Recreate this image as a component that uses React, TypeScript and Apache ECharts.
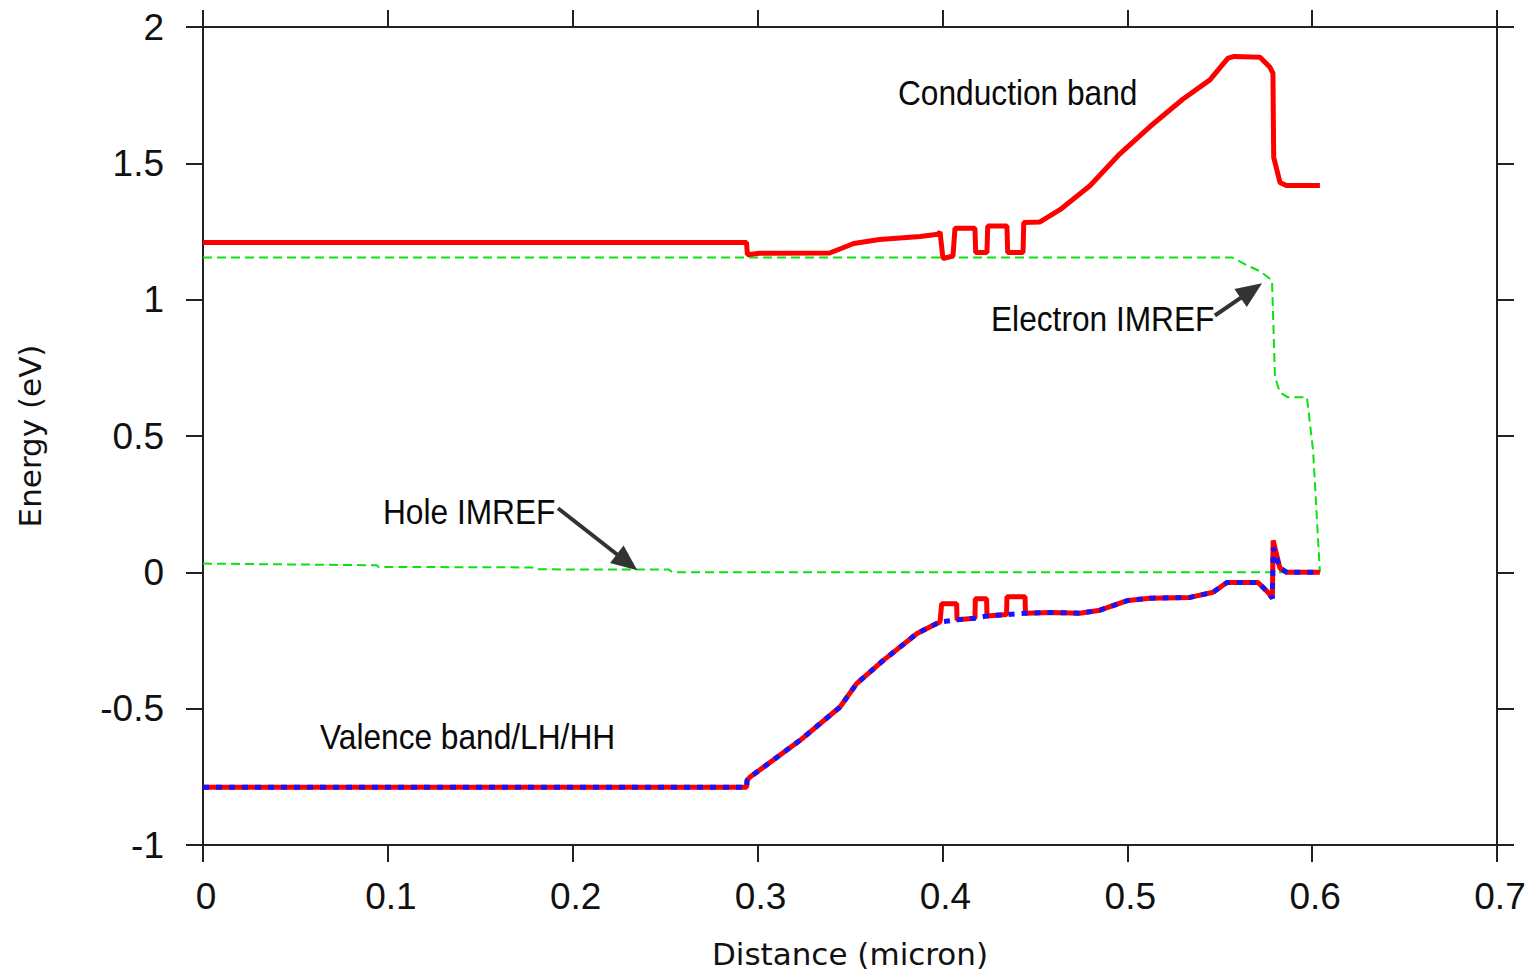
import React, { useEffect, useRef } from "react";
import * as echarts from "echarts";

// Distance axis (micron) and energy axis (eV)
const X_MIN = 0;
const X_MAX = 0.7;
const X_STEP = 0.1;
const Y_MIN = -1;
const Y_MAX = 2;
const Y_STEP = 0.5;

// Conduction band edge [distance, energy]
const conductionBand: [number, number][] = [
  [0, 1.21], [0.294, 1.21], [0.2945, 1.165], [0.301, 1.17], [0.339, 1.171],
  [0.352, 1.206], [0.366, 1.221], [0.388, 1.232], [0.3975, 1.24], [0.3987, 1.248],
  [0.4003, 1.151], [0.4057, 1.16], [0.4068, 1.262], [0.4176, 1.262], [0.418, 1.173],
  [0.4241, 1.173], [0.4245, 1.27], [0.4349, 1.27], [0.4353, 1.173], [0.4436, 1.173],
  [0.444, 1.283], [0.4528, 1.285], [0.4636, 1.33], [0.4798, 1.418], [0.496, 1.535],
  [0.5123, 1.635], [0.53, 1.735], [0.5447, 1.806], [0.5512, 1.859], [0.5545, 1.886],
  [0.558, 1.892], [0.5718, 1.889], [0.5772, 1.852], [0.5788, 1.83], [0.5792, 1.522],
  [0.5826, 1.43], [0.586, 1.419], [0.6042, 1.419],
];

// Electron quasi-Fermi level
const electronImref: [number, number][] = [
  [0, 1.155], [0.5566, 1.155], [0.5648, 1.126], [0.5718, 1.104], [0.5783, 1.071],
  [0.5799, 0.715], [0.5826, 0.66], [0.5869, 0.642], [0.5972, 0.642], [0.6005, 0.447],
  [0.6042, 0],
];

// Hole quasi-Fermi level
const holeImref: [number, number][] = [
  [0, 0.032], [0.094, 0.026], [0.095, 0.02], [0.178, 0.018], [0.18, 0.011],
  [0.252, 0.01], [0.254, 0], [0.6042, 0],
];

// Valence band edge
const valenceBand: [number, number][] = [
  [0, -0.788], [0.2941, -0.788], [0.2943, -0.763], [0.2959, -0.751], [0.323, -0.616],
  [0.3446, -0.494], [0.3536, -0.408], [0.368, -0.323], [0.3861, -0.225], [0.395, -0.194],
  [0.3987, -0.182], [0.3996, -0.115], [0.4077, -0.115], [0.4079, -0.174], [0.4176, -0.168],
  [0.4178, -0.097], [0.4239, -0.097], [0.4241, -0.16], [0.4347, -0.155], [0.4349, -0.09],
  [0.4447, -0.09], [0.4449, -0.15], [0.4582, -0.147], [0.4743, -0.15], [0.4852, -0.139],
  [0.5004, -0.103], [0.5123, -0.095], [0.5339, -0.092], [0.5464, -0.073], [0.5539, -0.037],
  [0.5707, -0.037], [0.5761, -0.073], [0.5785, -0.095], [0.5789, 0.117], [0.5826, 0.015],
  [0.5864, 0], [0.6042, 0],
];

// Light-hole / heavy-hole band edge
const lightHeavyHole: [number, number][] = [
  [0, -0.788], [0.2941, -0.788], [0.2943, -0.763], [0.2959, -0.751], [0.323, -0.616],
  [0.3446, -0.494], [0.3536, -0.408], [0.368, -0.323], [0.3861, -0.225], [0.395, -0.194],
  [0.3987, -0.182], [0.4077, -0.174], [0.4176, -0.168], [0.4241, -0.16], [0.4347, -0.155],
  [0.4449, -0.15], [0.4582, -0.147], [0.4743, -0.15], [0.4852, -0.139], [0.5004, -0.103],
  [0.5123, -0.095], [0.5339, -0.092], [0.5464, -0.073], [0.5539, -0.037], [0.5707, -0.037],
  [0.5761, -0.073], [0.5785, -0.095], [0.5789, 0.09], [0.5826, 0.015], [0.5864, 0],
  [0.6042, 0],
];

// Annotation arrows: [tail, head] in data coordinates
const holeArrow: [number, number][] = [[0.192, 0.235], [0.2294, 0.037]];
const electronArrow: [number, number][] = [[0.5474, 0.942], [0.5671, 1.033]];

const AXIS_COLOR = "#222";
const TICK_FONT = "Liberation Sans, Arial, sans-serif";

function arrowMarkLine(arrow: [number, number][]) {
  return {
    silent: true,
    animation: false,
    symbol: ["none", "triangle"],
    symbolSize: [22, 26],
    lineStyle: { color: "#333", width: 4, type: "solid" },
    label: { show: false },
    emphasis: { disabled: true },
    data: [[{ coord: arrow[0] }, { coord: arrow[1] }]],
  };
}

function annotation(text: string, x: number, y: number) {
  return {
    type: "text",
    x,
    y,
    scaleX: 0.88,
    silent: true,
    style: {
      text,
      fill: "#0a0a0a",
      font: "36px 'Liberation Sans', Arial, sans-serif",
      textAlign: "left",
      textVerticalAlign: "middle",
    },
  };
}

export default function App() {
  const ref = useRef<HTMLDivElement>(null);

  useEffect(() => {
    if (!ref.current) return;
    const chart = echarts.init(ref.current, undefined, { renderer: "svg" });

    const axisCommon = {
      type: "value",
      axisLine: { show: true, onZero: false, lineStyle: { color: AXIS_COLOR, width: 2 } },
      axisTick: { show: true, inside: false, length: 17, lineStyle: { color: AXIS_COLOR, width: 2 } },
      splitLine: { show: false },
    };

    chart.setOption({
      animation: false,
      backgroundColor: "#fff",
      grid: { left: 203, right: 39, top: 27, bottom: 131, containLabel: false },
      xAxis: [
        {
          ...axisCommon,
          position: "bottom",
          min: X_MIN,
          max: X_MAX,
          interval: X_STEP,
          name: "Distance (micron)",
          nameLocation: "middle",
          nameGap: 93,
          nameTextStyle: { fontFamily: "DejaVu Sans", fontSize: 31, color: "#111" },
          axisLabel: {
            margin: 33,
            fontFamily: TICK_FONT,
            fontSize: 37,
            color: "#111",
            padding: [0, 0, 0, 6],
          },
        },
        {
          ...axisCommon,
          position: "top",
          min: X_MIN,
          max: X_MAX,
          interval: X_STEP,
          axisLabel: { show: false },
        },
      ],
      yAxis: [
        {
          ...axisCommon,
          position: "left",
          min: Y_MIN,
          max: Y_MAX,
          interval: Y_STEP,
          name: "Energy (eV)",
          nameLocation: "middle",
          nameGap: 158,
          nameTextStyle: { fontFamily: "DejaVu Sans", fontSize: 31, color: "#111" },
          axisLabel: { margin: 39, fontFamily: TICK_FONT, fontSize: 37, color: "#111" },
        },
        {
          ...axisCommon,
          position: "right",
          min: Y_MIN,
          max: Y_MAX,
          interval: Y_STEP,
          axisLabel: { show: false },
        },
      ],
      series: [
        {
          name: "Hole IMREF",
          type: "line",
          data: holeImref,
          showSymbol: false,
          symbol: "none",
          silent: true,
          lineStyle: { color: "#0fe00f", width: 2, type: [9, 5] },
          markLine: arrowMarkLine(holeArrow),
          z: 2,
        },
        {
          name: "Electron IMREF",
          type: "line",
          data: electronImref,
          showSymbol: false,
          symbol: "none",
          silent: true,
          lineStyle: { color: "#0fe00f", width: 2, type: [9, 5] },
          markLine: arrowMarkLine(electronArrow),
          z: 2,
        },
        {
          name: "Conduction band",
          type: "line",
          data: conductionBand,
          showSymbol: false,
          symbol: "none",
          silent: true,
          lineStyle: { color: "#ff0000", width: 5 },
          z: 3,
        },
        {
          name: "Valence band",
          type: "line",
          data: valenceBand,
          showSymbol: false,
          symbol: "none",
          silent: true,
          lineStyle: { color: "#ff0000", width: 5 },
          z: 3,
        },
        {
          name: "LH/HH",
          type: "line",
          data: lightHeavyHole,
          showSymbol: false,
          symbol: "none",
          silent: true,
          lineStyle: { color: "#1414ff", width: 5, type: [6, 7] },
          z: 4,
        },
      ],
      graphic: [
        annotation("Conduction band", 898, 92),
        annotation("Electron IMREF", 991, 318),
        annotation("Hole IMREF", 383, 511),
        annotation("Valence band/LH/HH", 320, 736),
      ],
    });

    return () => chart.dispose();
  }, []);

  return (
    <div
      ref={ref}
      style={{ position: "fixed", left: 0, top: 0, width: 1536, height: 976, background: "#fff" }}
    />
  );
}
